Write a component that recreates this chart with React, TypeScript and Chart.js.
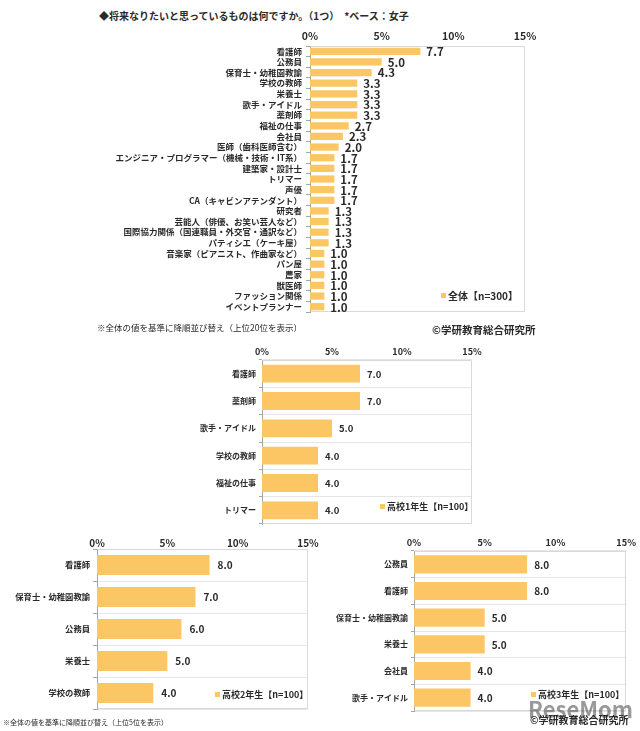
import React, { useEffect, useRef } from "react";
import { Chart, registerables } from "chart.js";

Chart.register(...registerables);

const FONT = "'Noto Sans CJK JP', 'Noto Sans', sans-serif";
const BAR_COLOR = "#FDC664";
const TEXT_COLOR = "#2a2a2a";

const titleText = "◆将来なりたいと思っているものは何ですか。（1つ）　*ベース：女子";
const axisMin = 0;
const axisMax = 15;
const axisStep = 5;

const allLabels = [
  "看護師",
  "公務員",
  "保育士・幼稚園教諭",
  "学校の教師",
  "栄養士",
  "歌手・アイドル",
  "薬剤師",
  "福祉の仕事",
  "会社員",
  "医師（歯科医師含む）",
  "エンジニア・プログラマー（機械・技術・IT系）",
  "建築家・設計士",
  "トリマー",
  "声優",
  "CA（キャビンアテンダント）",
  "研究者",
  "芸能人（俳優、お笑い芸人など）",
  "国際協力関係（国連職員・外交官・通訳など）",
  "パティシエ（ケーキ屋）",
  "音楽家（ピアニスト、作曲家など）",
  "パン屋",
  "農家",
  "獣医師",
  "ファッション関係",
  "イベントプランナー",
];
const allValues = [7.7, 5.0, 4.3, 3.3, 3.3, 3.3, 3.3, 2.7, 2.3, 2.0, 1.7, 1.7, 1.7, 1.7, 1.7, 1.3, 1.3, 1.3, 1.3, 1.0, 1.0, 1.0, 1.0, 1.0, 1.0];
const allLegend = "全体【n=300】";

const g1Labels = ["看護師", "薬剤師", "歌手・アイドル", "学校の教師", "福祉の仕事", "トリマー"];
const g1Values = [7.0, 7.0, 5.0, 4.0, 4.0, 4.0];
const g1Legend = "高校1年生【n=100】";

const g2Labels = ["看護師", "保育士・幼稚園教諭", "公務員", "栄養士", "学校の教師"];
const g2Values = [8.0, 7.0, 6.0, 5.0, 4.0];
const g2Legend = "高校2年生【n=100】";

const g3Labels = ["公務員", "看護師", "保育士・幼稚園教諭", "栄養士", "会社員", "歌手・アイドル"];
const g3Values = [8.0, 8.0, 5.0, 5.0, 4.0, 4.0];
const g3Legend = "高校3年生【n=100】";

const noteMain = "※全体の値を基準に降順並び替え（上位20位を表示）";
const noteSmall = "※全体の値を基準に降順並び替え（上位5位を表示）";
const copyright = "©学研教育総合研究所";

type PanelProps = {
  labels: string[];
  values: number[];
  left: number;
  top: number;
  yW: number;
  xH: number;
  plotW: number;
  plotH: number;
  padR: number;
  padB: number;
  labelSize: number;
  tickSize: number;
  valueSize: number;
  tickPad: number;
  yPad: number;
  tickLen: number;
  barPct: number;
  innerGrid: boolean;
  valueOffset: number;
};

function BarPanel(p: PanelProps) {
  const ref = useRef<HTMLCanvasElement | null>(null);
  const W = p.yW + p.plotW + p.padR;
  const H = p.xH + p.plotH + p.padB;

  useEffect(() => {
    if (!ref.current) return;
    const panelPlugin = {
      id: "panelPlugin",
      beforeDatasetsDraw(chart: any) {
        const { ctx, chartArea: a } = chart;
        ctx.save();
        ctx.strokeStyle = "#d9d9d9";
        ctx.lineWidth = 1;
        const l = Math.round(a.left) + 0.5;
        const r = Math.round(a.right) - 0.5;
        const t = Math.round(a.top) + 0.5;
        const b = Math.round(a.bottom) - 0.5;
        ctx.beginPath();
        ctx.moveTo(l, t);
        ctx.lineTo(r, t);
        ctx.lineTo(r, b);
        ctx.lineTo(l, b);
        ctx.stroke();
        ctx.restore();
      },
      afterDatasetsDraw(chart: any) {
        const { ctx } = chart;
        const meta = chart.getDatasetMeta(0);
        ctx.save();
        ctx.font = `bold ${p.valueSize}px ${FONT}`;
        ctx.fillStyle = TEXT_COLOR;
        ctx.textAlign = "left";
        ctx.textBaseline = "middle";
        meta.data.forEach((el: any, i: number) => {
          ctx.fillText(p.values[i].toFixed(1), el.x + p.valueOffset, el.y + 0.5);
        });
        ctx.restore();
      },
    };

    const chart = new Chart(ref.current, {
      type: "bar",
      data: {
        labels: p.labels,
        datasets: [
          {
            data: p.values,
            backgroundColor: BAR_COLOR,
            borderWidth: 0,
            barPercentage: p.barPct,
            categoryPercentage: 1,
          },
        ],
      },
      options: {
        indexAxis: "y",
        responsive: false,
        animation: false,
        devicePixelRatio: 1,
        layout: { padding: { left: 0, top: 0, right: p.padR, bottom: p.padB } },
        plugins: { legend: { display: false }, tooltip: { enabled: false }, title: { display: false } },
        scales: {
          x: {
            position: "top",
            min: axisMin,
            max: axisMax,
            ticks: {
              stepSize: axisStep,
              callback: (v: any) => `${v}%`,
              font: { family: FONT, size: p.tickSize, weight: "bold" },
              color: TEXT_COLOR,
              padding: p.tickPad,
              maxRotation: 0,
            },
            grid: { display: false, drawTicks: false },
            border: { display: false },
            afterFit: (s: any) => {
              s.height = p.xH;
            },
          },
          y: {
            ticks: {
              autoSkip: false,
              font: { family: FONT, size: p.labelSize, weight: "bold" },
              color: TEXT_COLOR,
              padding: p.yPad,
            },
            grid: {
              display: true,
              offset: true,
              drawOnChartArea: p.innerGrid,
              drawTicks: true,
              tickLength: p.tickLen,
              color: "#e6e6e6",
              tickColor: "#a6a6a6",
            },
            border: { display: true, color: "#a6a6a6" },
            afterFit: (s: any) => {
              s.width = p.yW;
            },
          },
        },
      },
      plugins: [panelPlugin],
    } as any);
    return () => chart.destroy();
  }, []);

  return (
    <canvas
      ref={ref}
      width={W}
      height={H}
      style={{ position: "absolute", left: p.left, top: p.top, width: W, height: H }}
    />
  );
}

function Txt(props: {
  x: number;
  cy: number;
  size: number;
  text: string;
  bold?: boolean;
  color?: string;
}) {
  const h = Math.round(props.size * 1.4);
  return (
    <div
      style={{
        position: "absolute",
        left: props.x,
        top: props.cy - h / 2,
        height: h,
        lineHeight: `${h}px`,
        fontSize: props.size,
        fontFamily: FONT,
        fontWeight: props.bold ? 700 : 400,
        color: props.color || TEXT_COLOR,
        whiteSpace: "nowrap",
      }}
    >
      {props.text}
    </div>
  );
}

function Legend(props: { x: number; cy: number; size: number; text: string }) {
  const h = Math.round(props.size * 1.4);
  return (
    <div
      style={{
        position: "absolute",
        left: props.x,
        top: props.cy - h / 2,
        height: h,
        display: "flex",
        alignItems: "center",
        fontSize: props.size,
        fontFamily: FONT,
        fontWeight: 700,
        color: TEXT_COLOR,
        whiteSpace: "nowrap",
      }}
    >
      <span style={{ display: "inline-block", width: 5, height: 5, background: BAR_COLOR, marginRight: 2 }} />
      {props.text}
    </div>
  );
}

export default function App() {
  return (
    <div style={{ position: "absolute", left: 0, top: 0, width: 640, height: 731, background: "#fff", overflow: "hidden" }}>
      <Txt x={99} cy={16} size={10} bold text={titleText} />
      <BarPanel
        labels={allLabels}
        values={allValues}
        left={0}
        top={20}
        yW={310}
        xH={26}
        plotW={215}
        plotH={266}
        padR={20}
        padB={10}
        labelSize={8.5}
        tickSize={10.5}
        valueSize={11.5}
        tickPad={4}
        yPad={4}
        tickLen={4}
        barPct={0.68}
        innerGrid={false}
        valueOffset={6}
      />
      <Legend x={441} cy={295} size={10} text={allLegend} />
      <Txt x={97} cy={327} size={8.5} text={noteMain} />
      <Txt x={432} cy={329} size={10.5} bold text={copyright} />

      <BarPanel
        labels={g1Labels}
        values={g1Values}
        left={120}
        top={334}
        yW={142}
        xH={26}
        plotW={210}
        plotH={164}
        padR={20}
        padB={10}
        labelSize={8}
        tickSize={9}
        valueSize={9.5}
        tickPad={3}
        yPad={3}
        tickLen={3}
        barPct={0.65}
        innerGrid={true}
        valueOffset={7}
      />
      <Legend x={380} cy={506} size={9} text={g1Legend} />

      <BarPanel
        labels={g2Labels}
        values={g2Values}
        left={0}
        top={524}
        yW={97}
        xH={25}
        plotW={211}
        plotH={160}
        padR={20}
        padB={10}
        labelSize={8.3}
        tickSize={10}
        valueSize={10}
        tickPad={0}
        yPad={3}
        tickLen={4}
        barPct={0.63}
        innerGrid={true}
        valueOffset={8}
      />
      <Legend x={215} cy={694} size={9} text={g2Legend} />
      <Txt x={3} cy={722} size={7} text={noteSmall} />

      <BarPanel
        labels={g3Labels}
        values={g3Values}
        left={320}
        top={526}
        yW={94}
        xH={25}
        plotW={213}
        plotH={160}
        padR={12}
        padB={10}
        labelSize={8}
        tickSize={9.2}
        valueSize={10}
        tickPad={3}
        yPad={3}
        tickLen={3}
        barPct={0.68}
        innerGrid={true}
        valueOffset={7}
      />
      <Legend x={531} cy={694} size={9} text={g3Legend} />
      <Txt x={528} cy={708} size={22} bold color="rgba(70,70,70,0.55)" text="ReseMom" />
      <Txt x={530} cy={720} size={10} bold text={copyright} />
    </div>
  );
}
